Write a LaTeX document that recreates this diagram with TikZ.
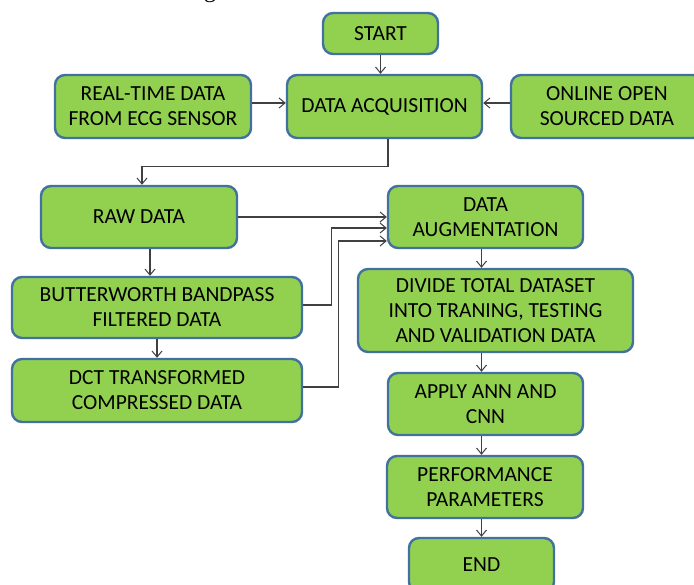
\documentclass[tikz,border=0pt]{standalone}
\usepackage{fontspec}
\setmainfont{Carlito}
\newfontfamily\capfont{Liberation Serif}
\usetikzlibrary{arrows.meta,calc}
\definecolor{boxfill}{HTML}{92D050}
\definecolor{boxline}{HTML}{41719C}
\definecolor{conn}{HTML}{404040}
\begin{document}
\begin{tikzpicture}[x=1pt,y=-1pt,
  flowbox/.style={draw=boxline, line width=2.4pt, fill=boxfill, rounded corners=10pt,
    align=center, inner sep=0pt, text=black,
    font=\fontsize{21.5}{25}\selectfont},
  arr/.style={draw=conn, line width=1.1pt, -{Straight Barb[length=6pt,width=10pt,line width=1pt]}},
  plain/.style={draw=conn, line width=1.1pt}]
\useasboundingbox (0,0) rectangle (694,585);
\node[font=\capfont\fontsize{24}{24}\selectfont, anchor=base, inner sep=0pt] (capg) at (210,-2.5) {g};

\node[flowbox, minimum width=115pt, minimum height=41pt] (start) at (380.5,33.5) {START};
\node[flowbox, minimum width=195pt, minimum height=63pt] (da) at (384.5,106.5) {DATA ACQUISITION};
\node[flowbox, minimum width=196pt, minimum height=63pt] (rt) at (153,106.5) {REAL-TIME DATA\\FROM ECG SENSOR};
\node[flowbox, minimum width=192pt, minimum height=63pt] (online) at (607,106.5) {ONLINE OPEN\\SOURCED DATA};
\node[flowbox, minimum width=196pt, minimum height=62pt] (raw) at (139,217) {RAW DATA};
\node[flowbox, minimum width=290pt, minimum height=61pt] (bw) at (157,307.5) {BUTTERWORTH BANDPASS\\FILTERED DATA};
\node[flowbox, minimum width=290pt, minimum height=63pt] (dct) at (157,390.5) {DCT TRANSFORMED\\COMPRESSED DATA};
\node[flowbox, minimum width=195pt, minimum height=62pt] (aug) at (485.5,217) {DATA\\AUGMENTATION};
\node[flowbox, minimum width=275pt, minimum height=83pt] (divide) at (495.5,310.5) {DIVIDE TOTAL DATASET\\INTO TRANING, TESTING\\AND VALIDATION DATA};
\node[flowbox, minimum width=195pt, minimum height=62pt] (apply) at (485.5,404) {APPLY ANN AND\\CNN};
\node[flowbox, minimum width=196pt, minimum height=62pt] (perf) at (485,487) {PERFORMANCE\\PARAMETERS};
\node[flowbox, minimum width=145pt, minimum height=54pt] (end) at (481.5,565) {END};

% top connectors
\draw[arr] (start.south) -- (start.south |- da.north);
\draw[arr] ([yshift=3.5pt]rt.east) -- ([yshift=3.5pt]da.west);
\draw[arr] ([yshift=3.5pt]online.west) -- ([yshift=3.5pt]da.east);
\coordinate (dabend) at ($(da.south)+(3.5,27)$);
\draw[arr] ([xshift=3.5pt]da.south) -- (dabend) -| ([xshift=3pt]raw.north);

% left column
\draw[arr] ([xshift=11pt]raw.south) -- ([xshift=11pt]raw.south |- bw.north);
\draw[arr] (bw.south) -- (dct.north);

% into augmentation
\draw[arr] (raw.east) -- (raw.east -| aug.west);
\coordinate (bwbend) at ($(bw.east)+(28,-2.5)$);
\draw[arr] (bwbend -| bw.east) -- (bwbend) |- ([yshift=-11pt]aug.west);
\coordinate (dctbend) at ($(dct.east)+(35,-3.5)$);
\draw[arr] (dctbend -| dct.east) -- (dctbend) |- ([yshift=-24pt]aug.west);

% right column
\draw[arr] (aug.south -| end.north) -- (divide.north -| end.north);
\draw[arr] (divide.south -| end.north) -- (apply.north -| end.north);
\draw[arr] (apply.south -| end.north) -- (perf.north -| end.north);
\draw[arr] (perf.south -| end.north) -- (end.north);
\end{tikzpicture}
\end{document}
